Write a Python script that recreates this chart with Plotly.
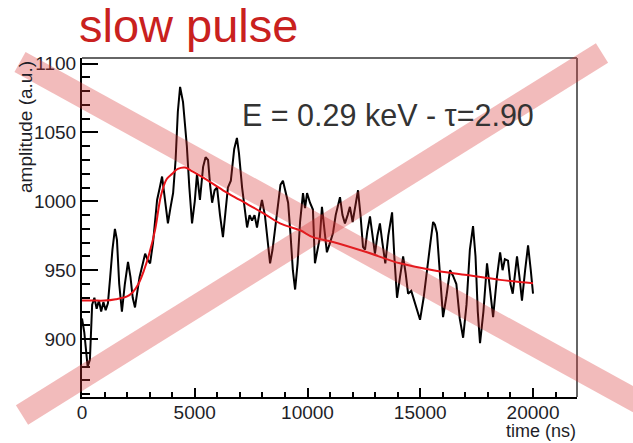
import plotly.graph_objects as go

# ---- data ----
wave_t = [0, 100, 250, 350, 450, 550, 650, 750, 850, 950, 1050, 1150, 1250, 1350, 1460, 1550, 1650, 1770,
          1900, 2040, 2150, 2250, 2350, 2450, 2550, 2700, 2800, 2900, 3020, 3150, 3250, 3330, 3450, 3550,
          3650, 3810, 3920, 4040, 4150, 4250, 4350, 4420, 4480, 4570, 4650, 4760, 4880, 5000, 5100, 5230,
          5370, 5480, 5590, 5680, 5770, 5880, 5990, 6120, 6250, 6360, 6470, 6600, 6750, 6870, 6960, 7100,
          7200, 7320, 7430, 7540, 7650, 7760, 7870, 7980, 8110, 8230, 8340, 8450, 8560, 8700, 8800, 8910,
          9020, 9140, 9250, 9350, 9450, 9560, 9670, 9800, 9890, 9980, 10110, 10240, 10330, 10420, 10550,
          10640, 10760, 10860, 11000, 11130, 11250, 11440, 11550, 11660, 11780, 11880, 12000, 12100, 12240,
          12350, 12460, 12550, 12650, 12770, 12880, 12990, 13100, 13210, 13320, 13450, 13580, 13750, 13850,
          13970, 14100, 14240, 14350, 14460, 14600, 14770, 14880, 14990, 15150, 15300, 15450, 15570, 15650,
          15740, 15880, 16010, 16150, 16320, 16450, 16600, 16750, 16900, 17050, 17200, 17340, 17450, 17550,
          17650, 17800, 17960, 18100, 18230, 18400, 18540, 18650, 18750, 18890, 19000, 19100, 19290, 19400,
          19510, 19650, 19780, 19900, 20000]
wave_v = [915, 905, 880, 885, 925, 930, 922, 928, 920, 927, 921, 926, 945, 965, 980, 972, 940, 920,
          940, 956, 945, 930, 923, 935, 945, 955, 962, 958, 955, 970, 985, 1001, 1010, 1018,
          1005, 984, 995, 1006, 1030, 1065, 1083, 1078, 1072, 1055, 1040, 1010, 984, 1000, 1020, 1001,
          1025, 1032, 1030, 1012, 999, 1008, 1010, 990, 974, 992, 1010, 1015, 1038, 1046, 1035, 1010,
          995, 981, 990, 986, 990, 981, 992, 1001, 990, 970, 955, 965, 979, 998, 1012, 1015,
          1008, 999, 975, 950, 936, 955, 985, 1006, 995, 1006, 999, 994, 955, 962, 974,
          996, 975, 963, 970, 977, 990, 1003, 990, 984, 990, 996, 985, 995, 1008,
          990, 967, 965, 978, 989, 975, 962, 975, 984, 970, 955, 975, 992, 960,
          930, 945, 960, 948, 933, 935, 926, 920, 914, 930, 948, 970, 985, 983,
          977, 945, 916, 930, 950, 946, 940, 915, 901, 925, 965, 982, 960, 920,
          897, 920, 955, 935, 916, 945, 963, 950, 958, 957, 940, 933, 960, 945,
          928, 950, 968, 950, 933]

fit_t = [0, 500, 1000, 1500, 2000, 2250, 2500, 2750, 3000, 3250, 3500, 3750, 4000, 4250, 4570,
         4920, 5540, 6250, 7000, 8030, 8780, 9670, 10240, 11130, 12640, 14100, 15570, 17070, 18540, 20000]
fit_v = [928, 928, 928, 929, 931, 934, 940, 950, 963, 980, 1004, 1016, 1020, 1023.5, 1024.5,
         1021.5, 1015.5, 1008, 1001, 991.5, 984, 979, 974, 970.5, 963, 955, 950, 946.5, 943, 940.5]

title_text = "slow pulse"
info_text = "E = 0.29 keV - \u03c4=2.90"
x_title = "time (ns)"
y_title = "amplitude (a.u.)"
x_ticks = [0, 5000, 10000, 15000, 20000]
x_ticktext = ["0", "5000", "10000", "15000", "20000"]
y_ticks = [900, 950, 1000, 1050, 1100]
y_ticktext = ["900", "950", "1000", "1050", "1100"]

# ---- layout geometry (pixels) ----
W, H = 633, 443
L, R, T, B = 82, 56, 58, 46
pw, ph = W - L - R, H - T - B


def px(x):
    return (x - L) / pw


def py(y):
    return (H - B - y) / ph


font_fam = "Liberation Sans, Arial, sans-serif"

fig = go.Figure()
fig.add_trace(go.Scatter(x=wave_t, y=wave_v, mode="lines",
                         line=dict(color="black", width=2), hoverinfo="skip"))
fig.add_trace(go.Scatter(x=fit_t, y=fit_v, mode="lines", line_shape="spline",
                         line=dict(color="#e8141a", width=2), hoverinfo="skip"))

axis_common = dict(showgrid=False, zeroline=False, showline=True, linecolor="black", linewidth=2,
                   ticks="inside", tickcolor="black", tickwidth=1.5,
                   tickfont=dict(family=font_fam, size=19, color="#1e1e28"))

fig.update_xaxes(range=[0, 21950], tickvals=x_ticks, ticktext=x_ticktext, ticklen=9,
                 ticklabelstandoff=-3,
                 minor=dict(dtick=1000, tick0=0, ticklen=5, ticks="inside", tickcolor="black", tickwidth=1.5),
                 **axis_common)
fig.update_yaxes(range=[858, 1104], tickvals=y_ticks, ticktext=y_ticktext, ticklen=16, ticklabelstandoff=0,
                 minor=dict(dtick=10, tick0=0, ticklen=8, ticks="inside", tickcolor="black", tickwidth=1.5),
                 **axis_common)

shapes = [
    # top and right frame lines
    dict(type="line", xref="paper", yref="paper", x0=0, x1=1, y0=1, y1=1, line=dict(color="#666", width=2)),
    dict(type="line", xref="paper", yref="paper", x0=1, x1=1, y0=0, y1=1, line=dict(color="#666", width=2)),
    # big cross
    dict(type="line", xref="paper", yref="paper", x0=px(20), y0=py(62), x1=px(650), y1=py(408.5),
         line=dict(color="rgba(215,50,50,0.33)", width=23), layer="above"),
    dict(type="line", xref="paper", yref="paper", x0=px(22), y0=py(415), x1=px(602), y1=py(53),
         line=dict(color="rgba(215,50,50,0.33)", width=23), layer="above"),
]

annotations = [
    dict(text=title_text, xref="paper", yref="paper", x=px(77), y=py(25), xanchor="left", yanchor="middle",
         showarrow=False, font=dict(family=font_fam, size=47, color="#c9211e")),
    dict(text=info_text, xref="paper", yref="paper", x=px(388), y=py(115), xanchor="center", yanchor="middle",
         showarrow=False, font=dict(family=font_fam, size=30.5, color="#333333")),
    dict(text=y_title, xref="paper", yref="paper", x=px(25), y=py(59), xanchor="center", yanchor="top",
         textangle=-90, showarrow=False, font=dict(family=font_fam, size=19, color="#1e1e28")),
    dict(text=x_title, xref="paper", yref="paper", x=px(578), y=py(431), xanchor="right", yanchor="middle",
         showarrow=False, font=dict(family=font_fam, size=18, color="#1e1e28")),
]

fig.update_layout(width=W, height=H, autosize=False,
                  margin=dict(l=L, r=R, t=T, b=B, pad=0),
                  paper_bgcolor="white", plot_bgcolor="white",
                  showlegend=False, shapes=shapes, annotations=annotations)

fig.write_html("out.html")
